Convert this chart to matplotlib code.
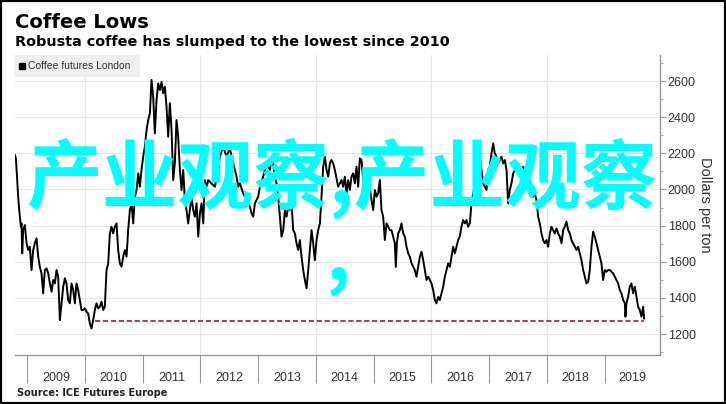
import matplotlib
matplotlib.use('Agg')
import matplotlib.pyplot as plt
from matplotlib.patches import Rectangle
from matplotlib.lines import Line2D
from matplotlib.ticker import MultipleLocator

# Robusta coffee futures, London (USD per ton)
years = [
    2008.788, 2008.805, 2008.816, 2008.845, 2008.863, 2008.874, 2008.892, 2008.903, 2008.915, 2008.932,
    2008.961, 2008.990, 2009.018, 2009.047, 2009.060, 2009.076, 2009.105, 2009.134, 2009.163, 2009.192,
    2009.220, 2009.249, 2009.278, 2009.307, 2009.336, 2009.365, 2009.394, 2009.423, 2009.451, 2009.480,
    2009.509, 2009.538, 2009.567, 2009.596, 2009.625, 2009.653, 2009.682, 2009.711, 2009.740, 2009.769,
    2009.798, 2009.827, 2009.855, 2009.884, 2009.913, 2009.942, 2009.971, 2010.000, 2010.029, 2010.057,
    2010.086, 2010.115, 2010.144, 2010.173, 2010.202, 2010.231, 2010.259, 2010.288, 2010.317, 2010.346,
    2010.375, 2010.404, 2010.433, 2010.461, 2010.490, 2010.519, 2010.548,
    2010.577, 2010.606, 2010.635, 2010.664, 2010.693, 2010.722, 2010.750, 2010.779, 2010.808, 2010.837,
    2010.866, 2010.895, 2010.924, 2010.952, 2010.981, 2011.010, 2011.039, 2011.068, 2011.097, 2011.126,
    2011.154, 2011.183, 2011.212, 2011.241, 2011.270, 2011.299, 2011.328, 2011.356, 2011.385, 2011.414,
    2011.443, 2011.472, 2011.501, 2011.530, 2011.558, 2011.587, 2011.616, 2011.645, 2011.674, 2011.703,
    2011.732, 2011.760, 2011.789, 2011.818, 2011.847, 2011.876, 2011.905, 2011.934, 2011.963, 2011.992,
    2012.021, 2012.050, 2012.078, 2012.107, 2012.136, 2012.193, 2012.251, 2012.309,
    2012.338, 2012.396, 2012.453, 2012.511, 2012.569, 2012.627, 2012.655, 2012.684, 2012.742, 2012.800,
    2012.857, 2012.886, 2012.915, 2012.944, 2012.973, 2013.002, 2013.031, 2013.088, 2013.146, 2013.204,
    2013.233, 2013.262, 2013.290, 2013.319, 2013.348, 2013.377, 2013.406, 2013.435, 2013.464, 2013.492,
    2013.521, 2013.550, 2013.579, 2013.608, 2013.637, 2013.666, 2013.694, 2013.723, 2013.752, 2013.781,
    2013.810, 2013.839, 2013.868, 2013.896, 2013.925, 2013.954, 2013.983, 2014.012, 2014.041, 2014.070,
    2014.098, 2014.127,
    2014.156, 2014.185, 2014.214, 2014.243, 2014.271, 2014.300, 2014.329, 2014.387, 2014.445, 2014.473,
    2014.502, 2014.531, 2014.560, 2014.589, 2014.618, 2014.647, 2014.675, 2014.704, 2014.733, 2014.762,
    2014.791, 2014.820, 2014.849, 2014.906, 2014.964, 2014.993, 2015.022, 2015.051, 2015.079, 2015.108,
    2015.137, 2015.166, 2015.195, 2015.224, 2015.253, 2015.281, 2015.310, 2015.339, 2015.368, 2015.385,
    2015.403, 2015.426, 2015.455, 2015.483, 2015.512, 2015.541, 2015.570, 2015.599, 2015.628, 2015.657,
    2015.686, 2015.714, 2015.743, 2015.772, 2015.801, 2015.830, 2015.859, 2015.888, 2015.916, 2015.945,
    2015.974,
    2016.003, 2016.032, 2016.061, 2016.089, 2016.118, 2016.147, 2016.176, 2016.205, 2016.234, 2016.263,
    2016.291, 2016.320, 2016.349, 2016.378, 2016.407, 2016.436, 2016.465, 2016.493, 2016.522, 2016.551,
    2016.580, 2016.609, 2016.638, 2016.667, 2016.695, 2016.724, 2016.782, 2016.840, 2016.869, 2016.897,
    2016.926, 2016.955, 2016.984, 2017.013, 2017.042, 2017.071, 2017.099, 2017.128, 2017.157, 2017.186,
    2017.215, 2017.244, 2017.273, 2017.302, 2017.330, 2017.359, 2017.388, 2017.417, 2017.446, 2017.475,
    2017.504, 2017.532, 2017.561, 2017.590, 2017.619, 2017.648, 2017.677, 2017.706, 2017.735, 2017.763,
    2017.792, 2017.821, 2017.850, 2017.879, 2017.907, 2017.936, 2017.965, 2017.994, 2018.023, 2018.052,
    2018.081, 2018.109, 2018.138, 2018.167, 2018.196, 2018.225, 2018.254, 2018.283, 2018.311, 2018.340,
    2018.369, 2018.398, 2018.427, 2018.456, 2018.485, 2018.514, 2018.542, 2018.571, 2018.600, 2018.629,
    2018.658, 2018.687, 2018.716, 2018.744, 2018.773, 2018.802, 2018.831, 2018.860, 2018.889, 2018.918,
    2018.946, 2018.975, 2019.004, 2019.033, 2019.062, 2019.091, 2019.120, 2019.148, 2019.177, 2019.206,
    2019.235, 2019.264, 2019.293, 2019.322, 2019.351, 2019.362, 2019.379, 2019.408, 2019.437, 2019.466,
    2019.495, 2019.524, 2019.553, 2019.581, 2019.610, 2019.639, 2019.668, 2019.685,
]
prices = [
    2191, 2172, 2117, 1960, 1886, 1849, 1794, 1812, 1646, 1775,
    1803, 1702, 1665, 1683, 1628, 1554, 1665, 1702, 1729, 1628,
    1572, 1536, 1425, 1554, 1563, 1536, 1480, 1434, 1499, 1480,
    1554, 1517, 1277, 1370, 1462, 1508, 1480, 1388, 1370, 1480,
    1443, 1370, 1480, 1443, 1388, 1333, 1333, 1342, 1323, 1314,
    1259, 1231, 1277, 1333, 1370, 1342, 1351, 1379, 1333, 1351,
    1554, 1591, 1757, 1794, 1757, 1794, 1812,
    1665, 1591, 1572, 1628, 1665, 1628, 1775, 1886, 1923, 1812,
    1960, 1997, 2089, 2015, 2108, 2181, 2237, 2329, 2384, 2421,
    2606, 2513, 2310, 2495, 2587, 2550, 2596, 2532, 2569, 2458,
    2292, 2477, 2329, 2052, 2144, 2384, 2292, 2108, 1997, 2108,
    1941, 1886, 1812, 1886, 1960, 1886, 1849, 1923, 1739, 1868,
    1923, 1812, 2052, 2015, 2052, 2034, 2015, 2108,
    2181, 2237, 2181, 2227, 2144, 2071, 2015, 2034, 1978, 1941,
    1905, 1868, 1849, 1923, 1941, 1960, 2015, 2071, 2144, 2108,
    2181, 2144, 2071, 2034, 1960, 1849, 1739, 1775, 1886, 1849,
    1905, 1886, 1923, 1775, 1757, 1702, 1665, 1720, 1628, 1554,
    1499, 1453, 1554, 1665, 1775, 1702, 1609, 1720, 1775, 1812,
    1960, 2126,
    2181, 2108, 2071, 2144, 2163, 2144, 2108, 2015, 2052, 2015,
    2071, 1978, 2052, 1997, 2071, 2089, 2034, 2126, 2015, 2172,
    2163, 2052, 1997, 2071, 1941, 1886, 1997, 1960, 1978, 2052,
    1886, 1849, 1720, 1812, 1794, 1775, 1775, 1739, 1702, 1572,
    1702, 1757, 1775, 1812, 1757, 1739, 1683, 1646, 1628, 1591,
    1572, 1554, 1517, 1572, 1628, 1656, 1609, 1554, 1499, 1517,
    1500,
    1480, 1443, 1388, 1370, 1406, 1388, 1425, 1462, 1517, 1554,
    1591, 1572, 1628, 1683, 1646, 1683, 1720, 1739, 1794, 1831,
    1812, 1831, 1794, 1812, 1923, 1978, 2052, 2181, 2108, 2034,
    2015, 1997, 2108, 2126, 2200, 2255, 2200, 2181, 2144, 2163,
    2181, 2144, 2163, 2108, 1923, 1997, 2034, 2089, 2108, 2126,
    2144, 2108, 2052, 2126, 2108, 2071, 2089, 2034, 1978, 1960,
    1978, 1941, 1849, 1812, 1757, 1720, 1702, 1720, 1683, 1757,
    1794, 1775, 1757, 1785, 1757, 1739, 1702, 1775, 1794, 1822,
    1775, 1757, 1720, 1702, 1683, 1665, 1683, 1646, 1609, 1554,
    1517, 1480, 1489, 1554, 1683, 1766, 1739, 1702, 1665, 1628,
    1591, 1499, 1554, 1545, 1554, 1554, 1545, 1536, 1517, 1499,
    1480, 1443, 1425, 1388, 1370, 1296, 1370, 1406, 1462, 1480,
    1425, 1462, 1406, 1351, 1333, 1296, 1351, 1286,
]

low_start, low_end, low_level = 2010.17, 2019.69, 1272
year_labels = list(range(2009, 2020))
grid_years = [2010, 2012, 2014, 2016, 2018]
y_ticks = [1200, 1400, 1600, 1800, 2000, 2200, 2400, 2600]
x_min, x_max = 2008.79, 2019.96
y_min, y_max = 1084, 2744

W, H = 726, 404
fig = plt.figure(figsize=(W / 100, H / 100), dpi=100)
ax = fig.add_axes([15 / W, 1 - 355 / H, 645 / W, 300 / H])

for v in y_ticks:
    ax.axhline(v, color='#e6e6e6', lw=0.8, zorder=0)
for g in grid_years:
    ax.axvline(g, color='#e6e6e6', lw=0.8, zorder=0)

ax.plot(years, prices, color='black', lw=1.4, zorder=3)
ax.plot([low_start, low_end], [low_level, low_level], color='#b03a6e', lw=1.5,
        ls=(0, (2.5, 1.3)), zorder=2)

ax.set_xlim(x_min, x_max)
ax.set_ylim(y_min, y_max)

for s in ['left', 'top']:
    ax.spines[s].set_visible(False)
for s in ['bottom', 'right']:
    ax.spines[s].set_color('#999999')
    ax.spines[s].set_linewidth(1)

tick_font = 'Liberation Sans'
ax.yaxis.tick_right()
ax.yaxis.set_label_position('right')
ax.set_yticks(y_ticks)
ax.set_yticklabels([str(v) for v in y_ticks], fontfamily=tick_font)
ax.yaxis.set_minor_locator(MultipleLocator(100))
ax.tick_params(axis='y', which='major', length=4, color='#999999', labelsize=9,
               pad=1.5, labelcolor='#333333')
ax.tick_params(axis='y', which='minor', length=2, color='#999999')

ax.set_xticks(year_labels)
ax.set_xticklabels([])
label_pos = [y + 0.5 for y in year_labels]
label_pos[-1] = (year_labels[-1] + x_max) / 2
ax.set_xticks(label_pos, minor=True)
ax.set_xticklabels([str(y) for y in year_labels], minor=True, fontfamily=tick_font)
ax.tick_params(axis='x', which='major', length=20, color='#999999')
ax.tick_params(axis='x', which='minor', length=0, pad=12, labelsize=9, labelcolor='#333333')

ax.set_ylabel('Dollars per ton', rotation=270, labelpad=12, fontsize=10.5,
              fontfamily=tick_font, color='#333333')

# legend box
fig.patches.append(Rectangle((14 / W, 1 - 77 / H), 126 / W, 22 / H, transform=fig.transFigure,
                             facecolor='#efefef', edgecolor='none', zorder=4))
fig.lines.append(Line2D([22 / W], [1 - 66 / H], transform=fig.transFigure, marker='s',
                        markersize=5, color='black', ls='none', zorder=5))
fig.text(28 / W, 1 - 66 / H, 'Coffee futures London', fontsize=7.5, fontfamily=tick_font,
         color='#333333', va='center', ha='left', zorder=5)

fig.text(15 / W, 1 - 28 / H, 'Coffee Lows', fontsize=14, fontweight='bold', va='baseline')
fig.text(15 / W, 1 - 46 / H, 'Robusta coffee has slumped to the lowest since 2010',
         fontsize=10.4, fontweight='bold', va='baseline')
fig.text(17 / W, 1 - 396 / H, 'Source: ICE Futures Europe', fontsize=7, fontweight='bold',
         va='baseline', color='#222222')

# overlay text
cjk = ['Noto Sans CJK SC', 'DejaVu Sans']
fig.text(26 / W, 1 - 178 / H, '产业观察,产业观察', fontsize=54.5, color='#00ffff',
         family=cjk, fontweight='bold', va='center', ha='left', zorder=10)
fig.text(326 / W, 1 - 257 / H, ',', fontsize=54.5, color='#00ffff',
         family=cjk, fontweight='bold', va='center', ha='left', zorder=10)

fig.patches.append(Rectangle((0, 0), 1, 1, transform=fig.transFigure, fill=False,
                             edgecolor='black', lw=3, zorder=20))

fig.savefig('out.png', dpi=100)
